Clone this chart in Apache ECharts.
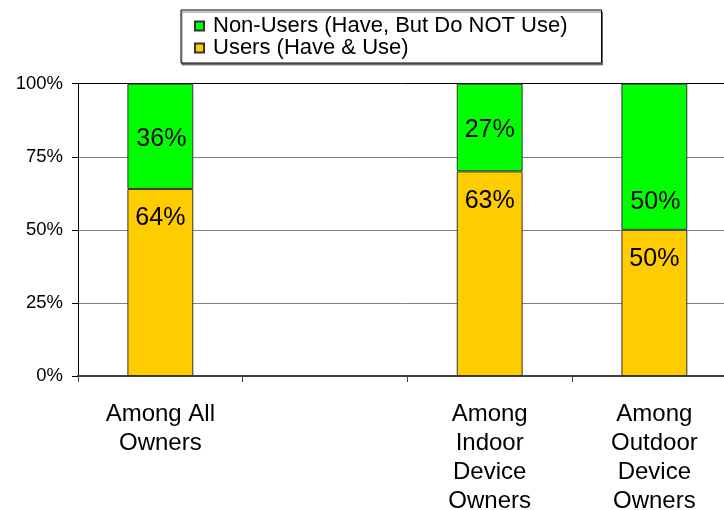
<!DOCTYPE html>
<html>
<head>
<meta charset="utf-8">
<script src="https://cdn.jsdelivr.net/npm/echarts@6/dist/echarts.min.js"></script>
<style>html,body{margin:0;padding:0;background:#fff}#c{width:724px;height:510px}</style>
</head>
<body>
<div id="c"></div>
<script>
const categories = ['Among All\nOwners', '', 'Among\nIndoor\nDevice\nOwners', 'Among\nOutdoor\nDevice\nOwners'];
const usersName = 'Users (Have & Use)';
const nonUsersName = 'Non-Users (Have, But Do NOT Use)';
const usersValues = [64, null, 63, 50];
const nonUsersValues = [36, null, 27, 50];
const yTicks = [0, 25, 50, 75, 100];

const FONT = "'Liberation Sans', Arial, sans-serif";
function share(v, i) {
  if (v == null) return null;
  const t = (usersValues[i] || 0) + (nonUsersValues[i] || 0);
  return v / t * 100;
}
const nonUserOffsets = [[1, 3], [0, 0], [0, 3], [1, 45]];

const chart = echarts.init(document.getElementById('c'));
chart.setOption({
  animation: false,
  textStyle: { fontFamily: FONT },
  legend: {
    data: [nonUsersName, usersName],
    orient: 'vertical',
    left: 181, top: 10,
    icon: 'rect',
    itemWidth: 9, itemHeight: 9, itemGap: 0,
    padding: [5, 34, 4, 13],
    borderColor: '#000', borderWidth: 1,
    backgroundColor: '#fff',
    shadowColor: 'rgba(0,0,0,0.45)', shadowOffsetX: 1, shadowOffsetY: 2,
    textStyle: { fontSize: 22, color: '#000', fontFamily: FONT, lineHeight: 20, padding: [0, 0, 0, 4] }
  },
  grid: { left: 78, top: 83.7, right: -12.7, bottom: 134, outerBoundsMode: 'none', containLabel: false },
  xAxis: {
    type: 'category',
    data: categories,
    axisLine: { lineStyle: { color: '#404040', width: 2 } },
    axisTick: { show: true, length: 6, lineStyle: { color: '#404040' } },
    axisLabel: { interval: 0, fontSize: 24, lineHeight: 29, color: '#000', margin: 24, fontFamily: FONT }
  },
  yAxis: {
    type: 'value', min: 0, max: 100, interval: 25,
    axisLine: { show: true, lineStyle: { color: '#000', width: 1 } },
    axisTick: { show: true, length: 6, lineStyle: { color: '#000' } },
    axisLabel: { formatter: '{value}%', fontSize: 18.5, color: '#000', margin: 15, fontFamily: FONT },
    splitLine: { show: true, lineStyle: { color: ['#808080', '#808080', '#808080', '#808080', '#000'], width: 1 } }
  },
  series: [
    {
      name: usersName, type: 'bar', stack: 'total', barWidth: '40%',
      data: usersValues.map((v, i) => ({ value: share(v, i), raw: v })),
      itemStyle: { color: '#FFCC00', borderColor: '#333', borderWidth: 1 },
      label: {
        show: true, position: 'insideTop', distance: 17,
        fontSize: 25, color: '#000', fontFamily: FONT,
        formatter: p => p.data.raw == null ? '' : p.data.raw + '%'
      }
    },
    {
      name: nonUsersName, type: 'bar', stack: 'total', barWidth: '40%',
      data: nonUsersValues.map((v, i) => ({ value: share(v, i), raw: v, label: { offset: nonUserOffsets[i] } })),
      itemStyle: { color: '#00FF00', borderColor: '#333', borderWidth: 1 },
      label: {
        show: true, position: 'inside',
        fontSize: 25, color: '#000', fontFamily: FONT,
        formatter: p => p.data.raw == null ? '' : p.data.raw + '%'
      }
    }
  ]
});
</script>
</body>
</html>
